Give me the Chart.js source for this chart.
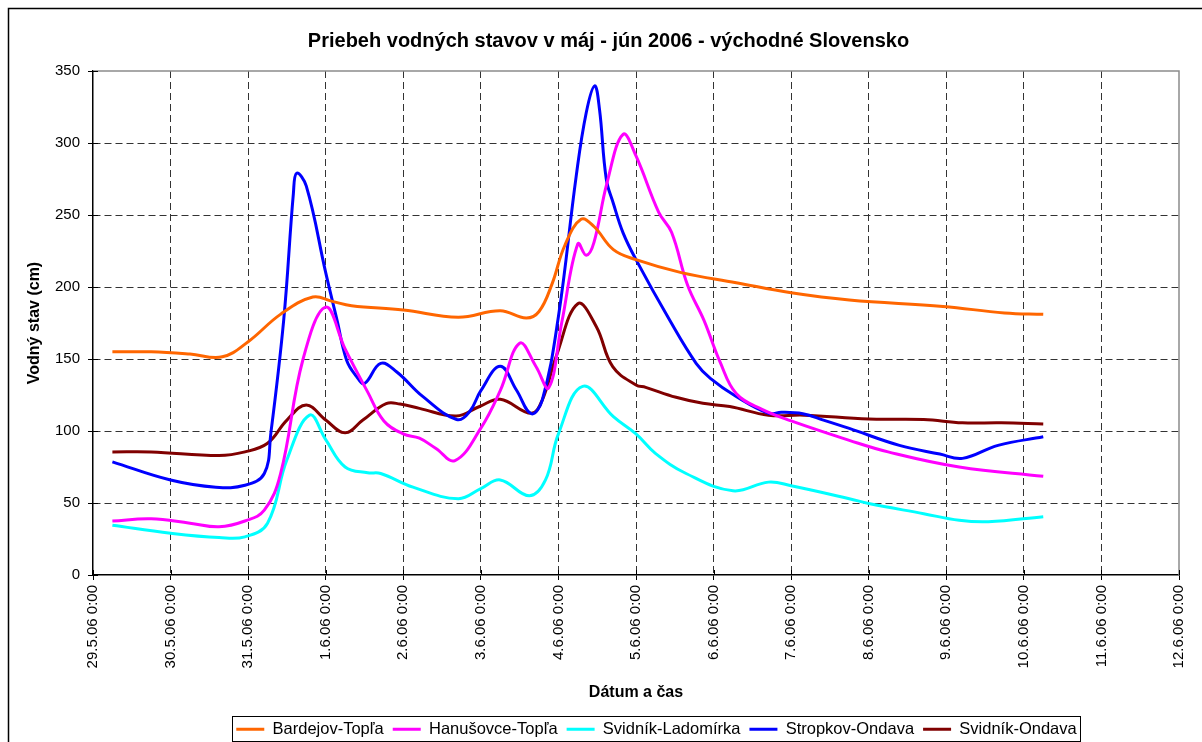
<!DOCTYPE html>
<html>
<head>
<meta charset="utf-8">
<title>Priebeh vodných stavov</title>
<script src="https://cdn.jsdelivr.net/npm/chart.js@4.4.1/dist/chart.umd.min.js"></script>
<style>
  html, body { margin: 0; padding: 0; background: #fff; }
  canvas { display: block; }
</style>
</head>
<body>
<canvas id="chart" width="1202" height="742"></canvas>
<script>
// hours counted from 29.5.06 0:00, one label per day
const dayLabels = [
  "29.5.06 0:00", "30.5.06 0:00", "31.5.06 0:00", "1.6.06 0:00", "2.6.06 0:00",
  "3.6.06 0:00", "4.6.06 0:00", "5.6.06 0:00", "6.6.06 0:00", "7.6.06 0:00",
  "8.6.06 0:00", "9.6.06 0:00", "10.6.06 0:00", "11.6.06 0:00", "12.6.06 0:00"
]
const yTicks = [0, 50, 100, 150, 200, 250, 300, 350]

const bardejovHours = [6, 18, 30, 40, 48, 58, 68, 74, 80, 96, 113, 126, 134, 138, 142, 146, 151, 155, 161, 168, 182, 199, 216, 234, 263, 282, 294]
const bardejovLevels = [155, 155, 153.5, 151.5, 162, 181, 193, 190, 187, 184, 179, 183.5, 178.5, 183, 202, 229, 247, 242, 226, 219, 210, 203, 196, 191, 186.5, 182, 181]

const hanusovceHours = [6, 18, 30, 39, 47, 53, 58, 65, 72, 78, 85, 90, 96, 101, 106, 112, 120, 126, 132, 137, 141, 145, 150, 152.6, 155, 159, 164, 168, 175, 179, 184, 189, 194, 199, 207, 216, 234, 246, 268, 294]
const hanusovceLevels = [37.5, 39, 36, 33.5, 37.5, 45, 70, 150, 186, 157, 127, 107, 98, 95, 88, 79.5, 102, 128, 161, 145, 130, 175, 230, 222, 231, 272, 306, 291, 252, 238, 201, 177, 148, 126, 115, 107, 93.5, 85.5, 75, 68.5]

const ladomirkaHours = [6, 24, 39, 47, 54, 60, 67, 72, 78, 85, 89, 99, 113, 120, 126, 135, 140, 144, 151.5, 161, 168, 174, 183.5, 198, 209, 216, 234, 240, 257, 268, 277, 294]
const ladomirkaLevels = [34.5, 29, 26, 26.5, 36, 80, 111, 94, 75, 71, 70.5, 61, 53, 60, 66, 55, 66, 98, 131, 110, 98, 84.5, 70.5, 58.5, 64.5, 62, 53, 49.6, 42.6, 38, 37, 40.5]

const stropkovHours = [6, 24, 38, 47, 53, 55, 59, 62, 63, 66, 72, 75.5, 78.5, 81.5, 84, 89, 94, 102, 112.5, 116.5, 120, 126, 131, 135.6, 139, 144, 149.5, 152.6, 155.2, 156.7, 158.8, 161, 164, 168, 178.4, 186.6, 191, 199, 209, 213, 219.6, 226, 234, 249.5, 262, 269, 280, 294]
const stropkovLevels = [78.6, 66, 61, 62.3, 70.5, 98, 177, 265, 279, 270, 210, 177, 149, 138, 133, 147, 141, 124, 108, 113.4, 128, 145, 128.5, 112, 121.5, 179.5, 277, 321, 339.7, 323.5, 275, 258, 237.6, 219, 177, 147, 136.6, 124, 112.3, 113, 112, 107.6, 101.8, 90, 84, 81, 90, 96]

const ondavaHours = [6, 18, 39, 47, 54, 60, 66, 72, 78, 83.5, 90.7, 95, 101, 112.4, 119.6, 126, 135.6, 139, 143.3, 150, 155.7, 160.8, 168, 171, 180.4, 188.7, 197, 209, 220, 240, 257, 269, 281, 294]
const ondavaLevels = [85.5, 85.5, 83, 85.5, 91.5, 107.6, 118, 107.6, 98.7, 107.6, 119, 118.7, 115.7, 110.4, 117, 122, 112.3, 121.5, 151.7, 188.4, 172.6, 144.7, 132, 130.3, 123.4, 119.2, 117, 111, 111, 108.3, 108, 105.7, 105.7, 104.8]

const seriesNames = ["Bardejov-Topľa", "Hanušovce-Topľa", "Svidník-Ladomírka", "Stropkov-Ondava", "Svidník-Ondava"]
const seriesColors = ["#FF6600", "#FF00FF", "#00FFFF", "#0000FF", "#800000"]
const seriesHours = [bardejovHours, hanusovceHours, ladomirkaHours, stropkovHours, ondavaHours]
const seriesLevels = [bardejovLevels, hanusovceLevels, ladomirkaLevels, stropkovLevels, ondavaLevels]

const lastHour = (dayLabels.length - 1) * 24

const datasets = seriesNames.map((name, i) => ({
  label: name,
  data: seriesHours[i].map((h, j) => ({ x: h, y: seriesLevels[i][j] })),
  borderColor: seriesColors[i],
  backgroundColor: seriesColors[i],
  borderWidth: 3,
  pointRadius: 0,
  tension: 0.4,
  fill: false,
}))

const font = "Liberation Sans, Arial, sans-serif"

// white page, outer frame, grey plot border, inner halves of the tick marks, legend box
const framePlugin = {
  id: "frame",
  afterLayout(chart) {
    // legend and title sit a little right of the centre in the original
    const lg = chart.legend
    lg.left += 55
    lg.right += 55
    lg.legendHitBoxes.forEach(b => { b.left += 55 })
    chart.titleBlock.left += 7
    chart.titleBlock.right += 7
  },
  beforeDraw(chart) {
    const ctx = chart.ctx
    ctx.save()
    ctx.fillStyle = "#fff"
    ctx.fillRect(0, 0, chart.width, chart.height)
    ctx.strokeStyle = "#000"
    ctx.lineWidth = 1.5
    ctx.beginPath()
    ctx.moveTo(8.5, chart.height + 5)
    ctx.lineTo(8.5, 8.5)
    ctx.lineTo(chart.width + 5, 8.5)
    ctx.stroke()
    ctx.restore()
  },
  beforeDatasetsDraw(chart) {
    const ctx = chart.ctx
    const a = chart.chartArea
    const xs = chart.scales.x
    const ys = chart.scales.y
    ctx.save()
    ctx.strokeStyle = "#8c8c8c"
    ctx.lineWidth = 1.5
    ctx.beginPath()
    ctx.moveTo(a.left, a.top)
    ctx.lineTo(a.right, a.top)
    ctx.lineTo(a.right, a.bottom)
    ctx.stroke()
    ctx.strokeStyle = "#000"
    ctx.lineWidth = 1
    ctx.beginPath()
    xs.ticks.forEach(t => {
      const px = Math.round(xs.getPixelForValue(t.value)) + 0.5
      ctx.moveTo(px, a.bottom)
      ctx.lineTo(px, a.bottom - 5)
    })
    ys.ticks.forEach(t => {
      const py = Math.round(ys.getPixelForValue(t.value)) + 0.5
      ctx.moveTo(a.left, py)
      ctx.lineTo(a.left + 5, py)
    })
    ctx.stroke()
    ctx.restore()
  },
  afterDraw(chart) {
    const boxes = chart.legend.legendHitBoxes
    if (!boxes || !boxes.length) return
    const left = Math.min(...boxes.map(b => b.left))
    const right = Math.max(...boxes.map(b => b.left + b.width))
    const top = Math.min(...boxes.map(b => b.top))
    const bottom = Math.max(...boxes.map(b => b.top + b.height))
    const ctx = chart.ctx
    ctx.save()
    ctx.strokeStyle = "#000"
    ctx.lineWidth = 1
    ctx.strokeRect(Math.round(left - 4) + 0.5, Math.round(top - 5) + 0.5, Math.round(right - left + 8), Math.round(bottom - top + 8))
    ctx.restore()
  },
}

new Chart(document.getElementById("chart"), {
  type: "line",
  data: { datasets },
  plugins: [framePlugin],
  options: {
    responsive: false,
    animation: false,
    devicePixelRatio: 1,
    layout: { padding: { left: 23, right: 22, top: 0, bottom: 0 } },
    plugins: {
      title: {
        display: true,
        text: "Priebeh vodných stavov v máj - jún 2006 - východné Slovensko",
        color: "#000",
        font: { family: font, size: 20, weight: "bold" },
        padding: { top: 29, bottom: 18 },
      },
      legend: {
        position: "bottom",
        maxHeight: 30,
        labels: {
          color: "#000",
          font: { family: font, size: 16.5 },
          usePointStyle: true,
          pointStyle: "line",
          pointStyleWidth: 28,
          boxWidth: 26,
          padding: 9,
        },
      },
      tooltip: { enabled: false },
    },
    scales: {
      x: {
        type: "linear",
        min: 0,
        max: lastHour,
        afterFit: scale => { scale.height = 137 },
        afterBuildTicks: scale => {
          scale.ticks = dayLabels.map((_, i) => ({ value: i * 24 }))
        },
        ticks: {
          autoSkip: false,
          maxRotation: 90,
          minRotation: 90,
          padding: 5,
          color: "#000",
          font: { family: font, size: 15 },
          callback: value => dayLabels[Math.round(value / 24)],
        },
        grid: {
          color: ctx => (ctx.tick && (ctx.tick.value === lastHour || ctx.tick.value === 0) ? "rgba(0,0,0,0)" : "#333"),
          tickColor: "#000",
          tickLength: 5,
        },
        border: { color: "#000", width: 1.5, dash: [7, 4] },
        title: {
          display: true,
          text: "Dátum a čas",
          color: "#000",
          font: { family: font, size: 16, weight: "bold" },
          padding: { top: 0, bottom: 10 },
        },
      },
      y: {
        min: 0,
        max: 350,
        afterFit: scale => { scale.width = 70 },
        afterBuildTicks: scale => {
          scale.ticks = yTicks.map(v => ({ value: v }))
        },
        ticks: {
          padding: 8,
          color: "#000",
          font: { family: font, size: 15 },
        },
        grid: {
          color: ctx => (ctx.tick && (ctx.tick.value === 350 || ctx.tick.value === 0) ? "rgba(0,0,0,0)" : "#333"),
          tickColor: "#000",
          tickLength: 5,
        },
        border: { color: "#000", width: 1.5, dash: [7, 4] },
        title: {
          display: true,
          text: "Vodný stav (cm)",
          color: "#000",
          font: { family: font, size: 16, weight: "bold" },
          padding: { top: 2, bottom: 0 },
        },
      },
    },
  },
})
</script>
</body>
</html>
